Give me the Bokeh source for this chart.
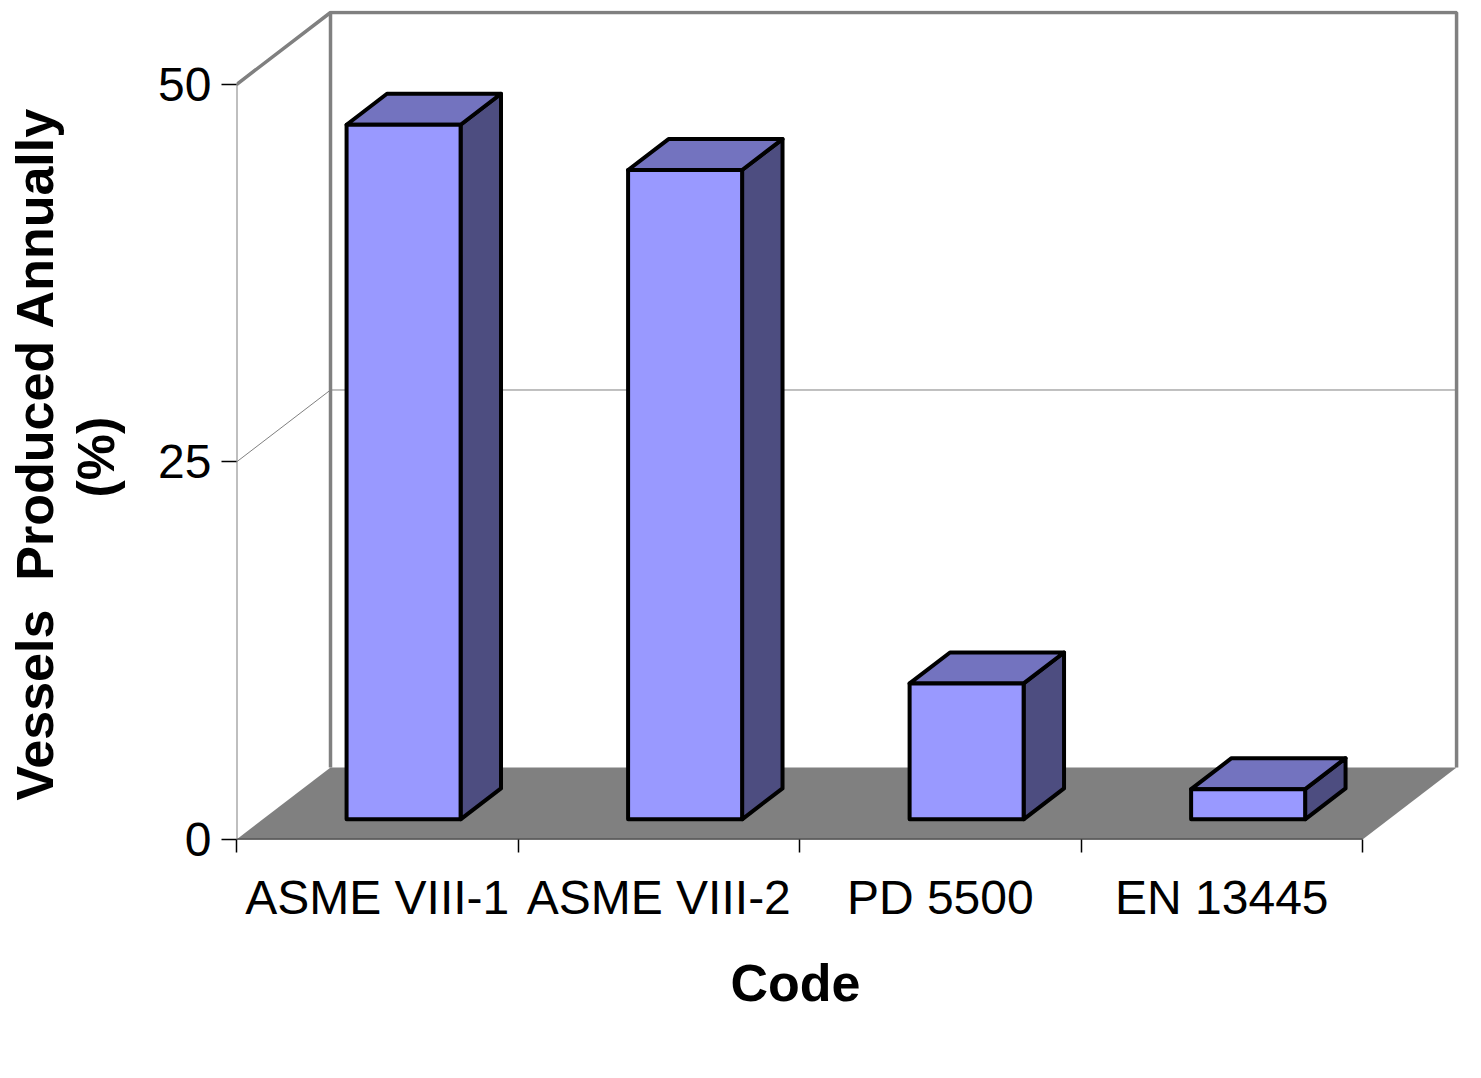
from bokeh.embed import file_html
from bokeh.models import FixedTicker, Title
from bokeh.plotting import figure
from bokeh.resources import INLINE

# data
codes = ["ASME VIII-1", "ASME VIII-2", "PD 5500", "EN 13445"]
share = [46, 43, 9, 2]
y_ticks = [0, 25, 50]
y_top = 50

# 3d look: depth of the box in axis units, bar placement inside the depth
DX = 94 / 281.5
DY = 72 / 15.1
F0, F1 = 0.28, 0.71
BAR_W = 0.405
n = len(codes)

FONT = "Liberation Sans"
GRAY = "#808080"

p = figure(width=1470, height=1070, x_range=(0, 4.355), y_range=(0, 54.9),
           output_backend="svg", toolbar_location=None,
           min_border_left=236, min_border_right=8,
           min_border_top=10, min_border_bottom=231)
p.grid.visible = False
p.outline_line_color = None
p.background_fill_color = "white"

# walls
p.patch([0, DX, DX, 0], [0, DY, y_top + DY, y_top], fill_color="white", line_color=None)
p.patch([DX, n + DX, n + DX, DX], [DY, DY, y_top + DY, y_top + DY],
        fill_color="white", line_color=None)

# gridline at the middle tick
mid = y_ticks[1]
p.line([0, DX, n + DX], [mid, mid + DY, mid + DY], line_color=GRAY, line_width=1)

# wall edges
p.line([0, DX, n + DX, n + DX], [y_top, y_top + DY, y_top + DY, DY],
       line_color=GRAY, line_width=3.5)
p.line([DX, DX], [DY, y_top + DY], line_color=GRAY, line_width=3.5)
p.line([0, 0], [0, y_top], line_color=GRAY, line_width=2)

# floor
p.patch([0, n, n + DX, DX], [0, 0, DY, DY], fill_color=GRAY, line_color=None)
p.line([0, n], [0, 0], line_color="black", line_width=1.5)

# bars
front_l, front_r, front_b, front_t = [], [], [], []
top_xs, top_ys, side_xs, side_ys = [], [], [], []
for i, v in enumerate(share):
    xl = i + 0.5 - BAR_W / 2
    xr = xl + BAR_W
    front_l.append(xl + F0 * DX)
    front_r.append(xr + F0 * DX)
    front_b.append(F0 * DY)
    front_t.append(v + F0 * DY)
    top_xs.append([xl + F0 * DX, xr + F0 * DX, xr + F1 * DX, xl + F1 * DX])
    top_ys.append([v + F0 * DY, v + F0 * DY, v + F1 * DY, v + F1 * DY])
    side_xs.append([xr + F0 * DX, xr + F1 * DX, xr + F1 * DX, xr + F0 * DX])
    side_ys.append([F0 * DY, F1 * DY, v + F1 * DY, v + F0 * DY])

p.patches(side_xs, side_ys, fill_color="#4d4d80", line_color="black",
          line_width=4, line_join="round")
p.patches(top_xs, top_ys, fill_color="#7373bf", line_color="black",
          line_width=4, line_join="round")
p.quad(left=front_l, right=front_r, bottom=front_b, top=front_t,
       fill_color="#9999ff", line_color="black", line_width=4, line_join="round")

# axes
ya = p.yaxis[0]
ya.ticker = FixedTicker(ticks=y_ticks, minor_ticks=[])
ya.axis_line_color = None
ya.major_tick_out = 15
ya.major_tick_in = 0
ya.major_tick_line_color = "black"
ya.major_tick_line_width = 1.5
ya.major_label_standoff = 10
ya.major_label_text_font = FONT
ya.major_label_text_font_size = "48px"
ya.major_label_text_color = "black"
# blank label only used as a spacer between tick labels and the title
ya.axis_label = "\u00a0"
ya.axis_label_text_font_size = "1px"
ya.axis_label_standoff = 24

xa = p.xaxis[0]
centers = [i + 0.5 for i in range(n)]
xa.ticker = FixedTicker(ticks=centers, minor_ticks=list(range(n + 1)))
xa.major_label_overrides = {c: name for c, name in zip(centers, codes)}
xa.axis_line_color = None
xa.major_tick_out = 0
xa.major_tick_in = 0
xa.minor_tick_out = 13
xa.minor_tick_in = 0
xa.minor_tick_line_color = "black"
xa.minor_tick_line_width = 1.5
xa.major_label_standoff = 18
xa.major_label_text_font = FONT
xa.major_label_text_font_size = "48px"
xa.major_label_text_color = "black"

# axis titles (as titles, so they can sit off the frame centre like the original)
def axis_title(text, offset, standoff):
    return Title(text=text, align="left", offset=offset, standoff=standoff,
                 text_font=FONT, text_font_size="52px", text_font_style="bold",
                 text_color="black")

p.add_layout(axis_title("Code", 494, 50), "below")
p.add_layout(axis_title("(%)", 342, 3), "left")
p.add_layout(axis_title("Vessels\u00a0\u00a0Produced Annually", 39, 0), "left")

open("out.html", "w").write(file_html(p, INLINE))
